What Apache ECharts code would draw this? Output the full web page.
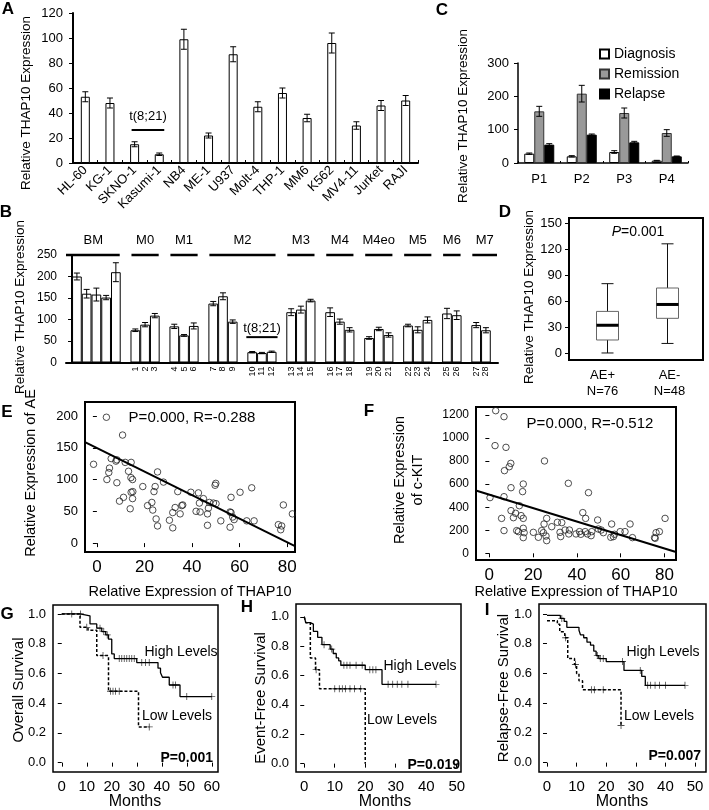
<!DOCTYPE html>
<html><head><meta charset="utf-8">
<script src="https://cdn.jsdelivr.net/npm/echarts@6/dist/echarts.min.js"></script>
<style>html,body{margin:0;padding:0;background:#fff}#c{width:709px;height:810px}</style>
</head><body><div id="c"></div>
<script>
// ---------- Panel A: cell lines ----------
const aCells = ['HL-60','KG-1','SKNO-1','Kasumi-1','NB4','ME-1','U937','Molt-4','THP-1','MM6','K562','MV4-11','Jurket','RAJI'];
const aMean = [53,48,15,7,99,22,87,45,56,36,96,30,46,50];
const aErr  = [4,4,2,1,8,2,6,4,4,3,8,3,4,4];
const aTicks = [0,20,40,60,80,100,120];

// ---------- Panel B: patient samples ----------
const bGroupNames = ['BM','M0','M1','M2','M3','M4','M4eo','M5','M6','M7'];
const bBlockSizes = [5,3,3,3,3,3,3,3,3,2,2];      // bar blocks separated by one empty slot
const bBlockGroup = [0,1,2,3,3,4,5,6,7,8,9];      // group of each block
const bSampleLabels = ['','','','','','1','2','3','4','5','6','7','8','9','10','11','12','13','14','15','16','17','18','19','20','21','22','23','24','25','26','27','28'];
const bMean = [200,160,158,151,210, 75,88,109, 84,63,85, 137,154,95, 24,22,25, 117,123,144, 117,95,76, 57,78,64, 86,76,99, 114,110, 87,75];
const bErr  = [8,10,15,5,22, 3,5,5, 5,2,7, 5,8,4, 1.5,1.5,1.5, 8,8,3, 10,6,5, 3,4,5, 3,7,7, 12,10, 6,6];
const bTicks = [0,50,100,150,200,250];

// ---------- Panel C ----------
const cPatients = ['P1','P2','P3','P4'];
const cDiagnosis = [28,20,33,7];
const cDiagnosisErr = [2,2,4,1];
const cRemission = [155,208,150,90];
const cRemissionErr = [15,25,15,10];
const cRelapse = [55,85,62,20];
const cRelapseErr = [3,2,3,1];

// ---------- Panel D ----------
const dGroups = ['AE+\nN=76','AE-\nN=48'];
const dMin = [0,11], dQ1 = [15,40], dMed = [32,56], dQ3 = [48,75], dMax = [80,126];
const dTicks = [0,30,60,90,120,150];

// ---------- Panel E ----------
const eTHAP10 = [4,10.8,-1.4,6,8.4,8,11.9,14.4,5.3,5,4.2,13.3,14.3,15,8.4,11.2,9.5,15.1,14.4,15,14,19.3,24.5,25.5,28,24,21.3,23.1,23.5,24.9,25.5,30.5,31.9,31.9,32.9,35,34,35.7,36.1,39.5,42.7,44.8,43.1,41.7,43.4,46.9,46.5,47.3,49,49.7,50,50.1,46.5,52.1,56,56.4,57.1,57.7,56,60.2,65.1,63,66.1,76.3,77.3,77.7,78.4,82.2,56.4];
const eAE = [198,170,124,133,131,129,127,127,118,111,100,113,103,100,95,72,66,81,80,70,54,89,89,112,96,81,59,64,52,38,27,36,24,48,56,46,81,59,60,80,79,70,63,50,49,55,46,64,63,91,94,62,28,35,49,72,41,37,25,80,87,35,35,29,21,27,60,46,48];
const eFitX = [-5, 83.3], eFitY = [159, -4.6];
const eXTicks = [0,20,40,60,80], eYTicks = [0,50,100,150,200];

// ---------- Panel F ----------
const fTHAP10 = [2.9,6.7,2.6,7.6,9.8,9.1,6.9,25.2,36.1,15.5,15.2,9.9,6.7,0.3,45.3,13.7,9.9,5.6,11,12,14.5,15.5,6.7,12.5,13.3,15.5,15.9,15.5,20.1,22.4,23.9,24.7,25,26.2,25.9,26.2,28.5,31.1,33.1,32.3,32.6,34.6,36.6,36.3,39.6,41.8,42.7,44,43.8,44.8,46.5,46.8,49.5,49.8,51.1,52.1,55.9,55.5,56.7,57.2,59.8,62,64.3,65.4,75.5,76.2,77.7,80.3,75.8,41.2];
const fKIT = [1237,1185,934,919,780,751,717,801,607,601,535,569,491,483,526,413,370,303,309,347,327,303,197,197,188,217,179,136,182,139,197,179,254,303,150,110,231,269,266,182,145,202,202,168,168,165,353,303,188,168,153,188,289,211,202,179,254,139,145,165,188,188,254,136,136,179,188,303,130,188];
const fFitX = [-5.8, 84.9], fFitY = [543, 14];
const fXTicks = [0,20,40,60,80], fYTicks = [0,200,400,600,800,1000,1200];

// ---------- Panels G, H, I (Kaplan-Meier) ----------
const gHigh = [[0,1.0],[7.3,0.987],[11.3,0.933],[14,0.904],[16,0.881],[17.6,0.859],[18.7,0.83],[20,0.731],[21,0.70],[30,0.673],[38.5,0.635],[39.5,0.605],[40.3,0.574],[43,0.522],[47.3,0.444],[60,0.444]];
const gHighCensor = [[4,1.0],[15.3,0.904],[16.8,0.881],[18.2,0.859],[23,0.70],[24,0.70],[25,0.70],[26,0.70],[27,0.70],[28,0.70],[29,0.70],[32,0.673],[33.5,0.673],[35,0.673],[44.5,0.522],[45.5,0.522],[50,0.444],[60,0.444]];
const gLow = [[0,1.0],[7.3,0.91],[10.5,0.89],[14,0.72],[18.7,0.48],[30.7,0.24],[35,0.24]];
const gLowCensor = [[7.5,1.0],[10,0.91],[16.5,0.72],[19.5,0.48],[20.5,0.48],[21.5,0.48],[23,0.48],[35,0.24]];
const hHigh = [[0,1.0],[0.5,0.96],[2,0.95],[3,0.90],[4.4,0.86],[5.8,0.81],[8.5,0.78],[9.5,0.75],[10.5,0.72],[11.3,0.70],[12,0.67],[20,0.64],[25.5,0.54],[43.2,0.54]];
const hHighCensor = [[6.5,0.81],[9,0.78],[13,0.67],[14,0.67],[15,0.67],[17,0.67],[19,0.67],[21.5,0.64],[22.5,0.64],[23.5,0.64],[27.5,0.54],[29,0.54],[30.5,0.54],[32,0.54],[34,0.54],[43.2,0.54]];
const hLow = [[0,1.0],[0.5,0.96],[2,0.72],[3.7,0.64],[5,0.51],[20,0.0]];
const hLowCensor = [[3.9,0.64],[10,0.51],[11.5,0.51],[12.5,0.51],[13.5,0.51],[15,0.51],[16.5,0.51],[18.5,0.51]];
const iHigh = [[0,0.99],[4.5,0.97],[5.8,0.95],[6.7,0.91],[10.8,0.89],[11.3,0.86],[12.4,0.84],[13.5,0.81],[14.7,0.79],[15.8,0.75],[16.6,0.72],[17.5,0.70],[20,0.68],[26,0.62],[32,0.58],[33.2,0.52],[46.6,0.52]];
const iHighCensor = [[5,0.97],[17,0.72],[18,0.70],[19,0.70],[25.5,0.68],[31.5,0.62],[34,0.52],[35,0.52],[36.5,0.52],[38,0.52],[40,0.52],[46.6,0.52]];
const iLow = [[0,0.955],[3.5,0.93],[4.3,0.88],[6,0.84],[7,0.70],[9.3,0.66],[10,0.60],[10.8,0.55],[12,0.49],[25,0.25]];
const iLowCensor = [[6.3,0.84],[9.6,0.66],[15,0.49],[16,0.49],[19,0.49],[25,0.25]];
const kmYTicks = [0,0.2,0.4,0.6,0.8,1.0];
const gXTicks = [0,10,20,30,40,50,60], hXTicks = [0,10,20,30,40,50], iXTicks = [0,10,20,30,40,50];

// ================= build =================
const FONT = '"Liberation Sans", Arial, Helvetica, sans-serif';
const BLACK = '#000';

// B slot layout
const bSlotX = []; const bBlocks = [];
(function(){ let s = 0; bBlockSizes.forEach(n => { const st = s; for (let i=0;i<n;i++){ bSlotX.push(s+0.5); s++; } bBlocks.push([st, s]); s++; }); })();
const bLastSlot = bBlocks[bBlocks.length-1][1];
const bXMin = -0.62, bXMax = bLastSlot + 0.74;
const bGroupSpans = bGroupNames.map((g, gi) => {
  let st = Infinity, en = -Infinity;
  bBlocks.forEach((b, bi) => { if (bBlockGroup[bi] === gi) { st = Math.min(st, b[0]); en = Math.max(en, b[1]); } });
  if (gi === 0) st = bXMin;
  if (gi === bGroupNames.length-1) en = bXMax;
  return [st, en, 250, gi];
});
const bSampleTickVals = bSlotX.filter((x,i) => bSampleLabels[i] !== '');

function errRender(capHalf, offset) {
  return function(params, api) {
    const x = api.value(0), m = api.value(1), e = api.value(2);
    const top = api.coord([x, m + e]), bot = api.coord([x, m - e]);
    const cx = top[0] + (offset || 0);
    const st = {stroke: BLACK, lineWidth: 1};
    return {type:'group', children:[
      {type:'line', shape:{x1:cx, y1:top[1], x2:cx, y2:bot[1]}, style:st},
      {type:'line', shape:{x1:cx-capHalf, y1:top[1], x2:cx+capHalf, y2:top[1]}, style:st},
      {type:'line', shape:{x1:cx-capHalf, y1:bot[1], x2:cx+capHalf, y2:bot[1]}, style:st}
    ]};
  };
}

const PLUS = 'path://M4.4,0L5.6,0L5.6,4.4L10,4.4L10,5.6L5.6,5.6L5.6,10L4.4,10L4.4,5.6L0,5.6L0,4.4L4.4,4.4Z';

function valueAxis(grid, min, max, ticks, fontSize, extra) {
  const fmt = extra && extra.fmt;
  return Object.assign({
    type:'value', gridIndex:grid, min, max,
    axisLine:{show:false},
    axisTick:{show:true, length:4, customValues:ticks, lineStyle:{color:BLACK, width:1}},
    axisLabel:{customValues:ticks, fontSize, color:BLACK, fontFamily:FONT, margin:7, formatter: fmt || (v => String(v))},
    splitLine:{show:false}
  }, extra ? extra.opts : {});
}

const xAxes = [
  // A
  {type:'category', gridIndex:0, data:aCells,
   axisLine:{lineStyle:{color:BLACK, width:2}},
   axisTick:{show:true, inside:true, length:3, lineStyle:{color:BLACK}},
   axisLabel:{rotate:45, interval:0, fontSize:13, color:BLACK, fontFamily:FONT, margin:5}},
  // B
  {type:'value', gridIndex:1, min:bXMin, max:bXMax,
   axisLine:{show:true, onZero:false, lineStyle:{color:BLACK, width:2}},
   axisTick:{show:false}, splitLine:{show:false},
   axisLabel:{customValues:bSampleTickVals, rotate:90, fontSize:9, color:BLACK, fontFamily:FONT, margin:4,
     formatter: v => { const i = bSlotX.findIndex(s => Math.abs(s - v) < 0.01); return i >= 0 ? bSampleLabels[i] : ''; }}},
  // C
  {type:'category', gridIndex:2, data:cPatients,
   axisLine:{lineStyle:{color:BLACK, width:1.5}},
   axisTick:{show:true, inside:true, length:2, lineStyle:{color:BLACK}},
   axisLabel:{fontSize:13, color:BLACK, fontFamily:FONT, margin:10}},
  // D
  {type:'category', gridIndex:3, data:dGroups,
   axisLine:{show:false}, axisTick:{show:false},
   axisLabel:{fontSize:13, color:BLACK, fontFamily:FONT, margin:7, lineHeight:16}},
  // E
  valueAxis(4, -5, 83.3, eXTicks, 17),
  // F
  valueAxis(5, -6.1, 85.3, fXTicks, 17),
  // G H I
  valueAxis(6, -3.5, 62.5, gXTicks, 15),
  valueAxis(7, -2.7, 51.4, hXTicks, 15),
  valueAxis(8, -2.7, 53.7, iXTicks, 15)
];
const kmFmt = v => v.toFixed(1);
const yAxes = [
  {type:'value', gridIndex:0, min:0, max:120, interval:20,
   axisLine:{show:true, lineStyle:{color:BLACK, width:2}}, axisTick:{show:true, length:4, lineStyle:{color:BLACK}},
   splitLine:{show:false}, axisLabel:{fontSize:13, color:BLACK, fontFamily:FONT, margin:10}},
  {type:'value', gridIndex:1, min:0, max:250, interval:50,
   axisLine:{show:true, lineStyle:{color:BLACK, width:2}}, axisTick:{show:true, length:4, lineStyle:{color:BLACK}},
   splitLine:{show:false}, axisLabel:{fontSize:12, color:BLACK, fontFamily:FONT, margin:9}},
  {type:'value', gridIndex:2, min:0, max:300, interval:100,
   axisLine:{show:true, lineStyle:{color:BLACK, width:1.5}}, axisTick:{show:true, length:4, lineStyle:{color:BLACK}},
   splitLine:{show:false}, axisLabel:{fontSize:13, color:BLACK, fontFamily:FONT, margin:9}},
  valueAxis(3, -8.1, 155.8, dTicks, 13),
  valueAxis(4, -14, 222, eYTicks, 13),
  valueAxis(5, -58, 1269, fYTicks, 12),
  valueAxis(6, -0.063, 1.06, kmYTicks, 13, {fmt:kmFmt}),
  valueAxis(7, -0.057, 1.087, kmYTicks, 13, {fmt:kmFmt}),
  valueAxis(8, -0.063, 1.067, kmYTicks, 13, {fmt:kmFmt})
];

const frame = {show:true, borderColor:BLACK, borderWidth:2, backgroundColor:'transparent'};
const grids = [
  {left:73, top:13, width:345, height:150},
  {left:66, top:255, width:432, height:107.5},
  {left:518, top:63, width:170, height:100},
  Object.assign({left:569, top:218, width:134, height:142}, frame),
  Object.assign({left:85, top:402, width:210, height:150}, frame),
  Object.assign({left:476, top:407, width:200, height:153}, frame),
  Object.assign({left:53, top:605, width:165, height:167}, frame, {borderWidth:1.5}),
  Object.assign({left:296, top:604, width:165, height:168}, frame, {borderWidth:1.5}),
  Object.assign({left:539, top:604, width:167, height:168}, frame, {borderWidth:1.5})
];

const whiteBar = {color:'#fff', borderColor:BLACK, borderWidth:1};
const series = [];
// A
series.push({type:'bar', xAxisIndex:0, yAxisIndex:0, data:aMean, barWidth:9, itemStyle:whiteBar, z:2});
series.push({type:'custom', xAxisIndex:0, yAxisIndex:0, data:aMean.map((m,i)=>[i,m,aErr[i]]), renderItem:errRender(3), z:3});
series.push({type:'custom', xAxisIndex:0, yAxisIndex:0, data:[[2,3,26.5,37]], z:3,
  renderItem:(p, api) => {
    const a = api.coord([api.value(0), api.value(2)]), b = api.coord([api.value(1), api.value(2)]), t = api.coord([api.value(0), api.value(3)]);
    return {type:'group', children:[
      {type:'line', shape:{x1:a[0]-3, y1:a[1], x2:b[0]+5, y2:b[1]}, style:{stroke:BLACK, lineWidth:2}},
      {type:'text', x:(a[0]+b[0])/2+1, y:t[1], style:{text:'t(8;21)', fontSize:13, fontFamily:FONT, fill:BLACK, align:'center', verticalAlign:'middle'}}
    ]};
  }});
// B
series.push({type:'bar', xAxisIndex:1, yAxisIndex:1, data:bSlotX.map((x,i)=>[x,bMean[i]]), barWidth:9.7, itemStyle:whiteBar, z:2});
series.push({type:'custom', xAxisIndex:1, yAxisIndex:1, data:bSlotX.map((x,i)=>[x,bMean[i],bErr[i]]), renderItem:errRender(3), z:3});
series.push({type:'custom', xAxisIndex:1, yAxisIndex:1, data:bGroupSpans, z:3,
  renderItem:(p, api) => {
    const a = api.coord([api.value(0), api.value(2)]), b = api.coord([api.value(1), api.value(2)]);
    return {type:'group', children:[
      {type:'line', shape:{x1:a[0]+ (p.dataIndex===0?0:1), y1:a[1], x2:b[0]-1, y2:b[1]}, style:{stroke:BLACK, lineWidth:2.5}},
      {type:'text', x:(a[0]+b[0])/2, y:a[1]-15, style:{text:bGroupNames[api.value(3)], fontSize:13, fontFamily:FONT, fill:BLACK, align:'center', verticalAlign:'middle'}}
    ]};
  }});
series.push({type:'custom', xAxisIndex:1, yAxisIndex:1, data:[[bBlocks[4][0], bBlocks[4][1], 59, 80]], z:3,
  renderItem:(p, api) => {
    const a = api.coord([api.value(0), api.value(2)]), b = api.coord([api.value(1), api.value(2)]), t = api.coord([api.value(0), api.value(3)]);
    return {type:'group', children:[
      {type:'line', shape:{x1:a[0]-1, y1:a[1], x2:b[0]+1, y2:b[1]}, style:{stroke:BLACK, lineWidth:2}},
      {type:'text', x:(a[0]+b[0])/2, y:t[1], style:{text:'t(8;21)', fontSize:13, fontFamily:FONT, fill:BLACK, align:'center', verticalAlign:'middle'}}
    ]};
  }});
// C
const cSeries = [
  ['Diagnosis', cDiagnosis, cDiagnosisErr, {color:'#fff', borderColor:BLACK, borderWidth:1}, -10],
  ['Remission', cRemission, cRemissionErr, {color:'#999', borderColor:'#333', borderWidth:1}, 0],
  ['Relapse', cRelapse, cRelapseErr, {color:'#000', borderColor:BLACK, borderWidth:1}, 10]
];
cSeries.forEach(s => series.push({type:'bar', name:s[0], xAxisIndex:2, yAxisIndex:2, data:s[1], barWidth:10, barGap:'0%', itemStyle:s[3], z:2}));
cSeries.forEach(s => series.push({type:'custom', xAxisIndex:2, yAxisIndex:2, data:s[1].map((m,i)=>[i,m,s[2][i]]), renderItem:errRender(3, s[4]), z:3}));
// D
series.push({type:'custom', xAxisIndex:3, yAxisIndex:3, z:3,
  data:dGroups.map((g,i)=>[i,dMin[i],dQ1[i],dMed[i],dQ3[i],dMax[i]]),
  renderItem:(p, api) => {
    const i = api.value(0);
    const pMin = api.coord([i, api.value(1)]), pQ1 = api.coord([i, api.value(2)]), pMed = api.coord([i, api.value(3)]),
          pQ3 = api.coord([i, api.value(4)]), pMax = api.coord([i, api.value(5)]);
    const cx = pMed[0] + (i === 0 ? 5 : -2), hw = 11, cap = 6;
    const blk = {stroke:'#111', lineWidth:1};
    return {type:'group', children:[
      {type:'line', shape:{x1:cx, y1:pMax[1], x2:cx, y2:pQ3[1]}, style:blk},
      {type:'line', shape:{x1:cx, y1:pQ1[1], x2:cx, y2:pMin[1]}, style:blk},
      {type:'line', shape:{x1:cx-cap, y1:pMax[1], x2:cx+cap, y2:pMax[1]}, style:blk},
      {type:'line', shape:{x1:cx-cap, y1:pMin[1], x2:cx+cap, y2:pMin[1]}, style:blk},
      {type:'rect', shape:{x:cx-hw, y:pQ3[1], width:2*hw, height:pQ1[1]-pQ3[1]}, style:{fill:'none', stroke:'#666', lineWidth:1}},
      {type:'line', shape:{x1:cx-hw, y1:pMed[1], x2:cx+hw, y2:pMed[1]}, style:{stroke:BLACK, lineWidth:3}}
    ]};
  }});
// E
const scatterStyle = {color:'rgba(255,255,255,0)', borderColor:'#222', borderWidth:1};
series.push({type:'scatter', xAxisIndex:4, yAxisIndex:4, data:eTHAP10.map((x,i)=>[x,eAE[i]]), symbol:'circle', symbolSize:6.5, itemStyle:scatterStyle});
series.push({type:'line', xAxisIndex:4, yAxisIndex:4, data:eFitX.map((x,i)=>[x,eFitY[i]]), symbol:'none', lineStyle:{color:BLACK, width:2}});
// F
series.push({type:'scatter', xAxisIndex:5, yAxisIndex:5, data:fTHAP10.map((x,i)=>[x,fKIT[i]]), symbol:'circle', symbolSize:6.5, itemStyle:scatterStyle});
series.push({type:'line', xAxisIndex:5, yAxisIndex:5, data:fFitX.map((x,i)=>[x,fFitY[i]]), symbol:'none', lineStyle:{color:BLACK, width:2}});
// KM
function km(grid, high, highC, low, lowC) {
  series.push({type:'line', xAxisIndex:grid, yAxisIndex:grid, data:high, step:'end', symbol:'none', lineStyle:{color:BLACK, width:1.3}});
  series.push({type:'line', xAxisIndex:grid, yAxisIndex:grid, data:low, step:'end', symbol:'none', lineStyle:{color:BLACK, width:1.5, type:[3,2]}});
  series.push({type:'scatter', xAxisIndex:grid, yAxisIndex:grid, data:highC, symbol:PLUS, symbolSize:7, itemStyle:{color:'#222'}});
  series.push({type:'scatter', xAxisIndex:grid, yAxisIndex:grid, data:lowC, symbol:PLUS, symbolSize:7, itemStyle:{color:'#222'}});
}
km(6, gHigh, gHighCensor, gLow, gLowCensor);
km(7, hHigh, hHighCensor, hLow, hLowCensor);
km(8, iHigh, iHighCensor, iLow, iLowCensor);

// ---------- text (panel letters, axis titles, annotations) ----------
function T(x, y, text, o) {
  o = o || {};
  return {type:'text', x, y, rotation:o.rot ? Math.PI/2 : 0, silent:true, z:10,
    style:{text, fontSize:o.fs || 14, fontFamily:FONT, fontWeight:o.bold ? 'bold' : 'normal', fill:BLACK,
      align:o.align || 'center', verticalAlign:'middle', lineHeight:o.lh, rich:o.rich}};
}
const graphics = [
  T(8,9,'A',{fs:17,bold:true}), T(6,212,'B',{fs:17,bold:true}), T(442,10,'C',{fs:17,bold:true}),
  T(505,212,'D',{fs:17,bold:true}), T(7,412,'E',{fs:17,bold:true}), T(369,411,'F',{fs:17,bold:true}),
  T(7,614,'G',{fs:17,bold:true}), T(247,607,'H',{fs:17,bold:true}), T(487,610,'I',{fs:17,bold:true}),
  T(26,103,'Relative THAP10 Expression',{rot:1,fs:13.5}),
  T(20,307,'Relative THAP10 Expression',{rot:1,fs:13.5}),
  T(463,116,'Relative THAP10 Expression',{rot:1,fs:13.5}),
  T(529,297,'Relative THAP10 Expression',{rot:1,fs:13.5}),
  T(31,473,'Relative Expression of AE',{rot:1,fs:14.5}),
  T(190,592,'Relative Expression of THAP10',{fs:14.5}),
  T(409,480,'Relative Expression\nof c-KIT',{rot:1,fs:14.5,lh:18}),
  T(576,592,'Relative Expression of THAP10',{fs:14.5}),
  T(19,690,'Overall Survival',{rot:1,fs:15}),
  T(261,698,'Event-Free Survival',{rot:1,fs:15}),
  T(504,688,'Relapse-Free Survival',{rot:1,fs:15}),
  T(135,802,'Months',{fs:16}), T(385,802,'Months',{fs:16}), T(622,802,'Months',{fs:16}),
  T(638,232,'{i|P}=0.001',{fs:14, rich:{i:{fontStyle:'italic', fontSize:14, fontFamily:FONT}}}),
  T(192,418,'P=0.000, R=-0.288',{fs:15}),
  T(590,424,'P=0.000, R=-0.512',{fs:15}),
  T(181,652,'High Levels',{fs:14}), T(177,716,'Low Levels',{fs:14}), T(213,758,'P=0.001',{fs:14,bold:true,align:'right'}),
  T(420,666,'High Levels',{fs:14}), T(402,720,'Low Levels',{fs:14}), T(460,765,'P=0.019',{fs:14,bold:true,align:'right'}),
  T(663,652,'High Levels',{fs:14}), T(659,716,'Low Levels',{fs:14}), T(701,756,'P=0.007',{fs:14,bold:true,align:'right'})
];

const chart = echarts.init(document.getElementById('c'), null, {renderer:'canvas'});
chart.setOption({
  animation:false,
  backgroundColor:'#fff',
  textStyle:{fontFamily:FONT, color:BLACK},
  legend:{data:['Diagnosis','Remission','Relapse'], orient:'vertical', left:594, top:42, itemWidth:9, itemHeight:9, itemGap:6,
    icon:'rect', textStyle:{fontSize:14, color:BLACK, fontFamily:FONT}, selectedMode:false},
  grid:grids, xAxis:xAxes, yAxis:yAxes, series, graphic:graphics
});
</script></body></html>
